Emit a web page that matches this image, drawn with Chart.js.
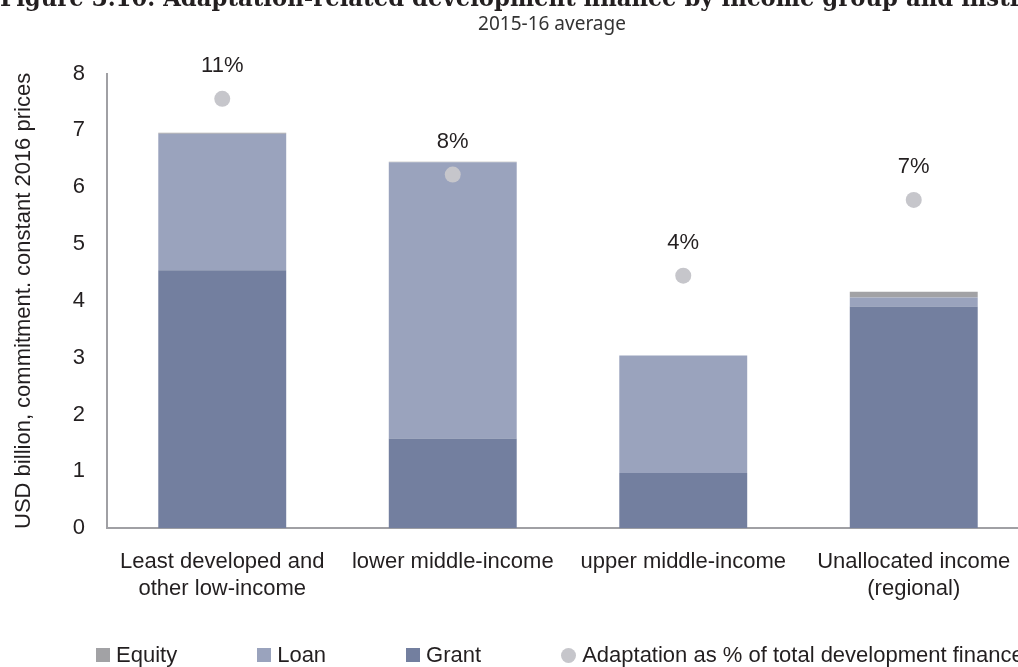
<!DOCTYPE html>
<html>
<head>
<meta charset="utf-8">
<script src="https://cdn.jsdelivr.net/npm/chart.js@4/dist/chart.umd.min.js"></script>
<style>
  body { margin: 0; overflow: hidden; background: #fff; }
  #wrap { position: relative; width: 1104px; height: 667px; }
  #legend {
    position: absolute; left: 96px; top: 642px;
    display: flex; align-items: center;
    font: 22px 'Liberation Sans', Arial, sans-serif; color: #231f20;
    white-space: nowrap;
  }
  #legend .item { display: flex; align-items: center; margin-right: 80px; }
  #legend .sw { display: inline-block; width: 14px; height: 14px; margin-right: 6px; }
  #legend .dot { width: 15px; height: 15px; border-radius: 50%; }
</style>
</head>
<body>
<div id="wrap">
  <canvas id="myChart"></canvas>
  <div id="legend"></div>
</div>
<script>
// income groups on the x axis
const categories = [
  ['Least developed and', 'other low-income'],
  'lower middle-income',
  'upper middle-income',
  ['Unallocated income', '(regional)'],
];

// USD billion, by instrument
const grant = [4.54, 1.58, 0.97, 3.90];
const loan = [2.40, 4.86, 2.07, 0.16];
const equity = [0.02, 0.01, 0.0, 0.10];

// adaptation share of total development finance (%)
const adaptationShare = [11, 8, 4, 7];

const yTicks = [0, 1, 2, 3, 4, 5, 6, 7, 8];

const textColor = '#231f20';
const sans = "'Liberation Sans', Arial, sans-serif";
Chart.defaults.font.family = sans;
Chart.defaults.font.size = 22;
Chart.defaults.color = textColor;

// prints the % value above each dot
const shareLabels = {
  id: 'shareLabels',
  afterDatasetsDraw(chart) {
    const idx = chart.data.datasets.findIndex(d => d.type === 'line');
    const meta = chart.getDatasetMeta(idx);
    const ctx = chart.ctx;
    ctx.save();
    ctx.font = '22px ' + sans;
    ctx.fillStyle = textColor;
    ctx.textAlign = 'center';
    ctx.textBaseline = 'middle';
    meta.data.forEach((pt, i) => {
      ctx.fillText(chart.data.datasets[idx].data[i] + '%', pt.x, pt.y - 33);
    });
    ctx.restore();
  }
};

const ctx = document.getElementById('myChart').getContext('2d');
const myChart = new Chart(ctx, {
  type: 'bar',
  data: {
    labels: categories,
    datasets: [
      { label: 'Grant', data: grant, backgroundColor: '#737f9f', stack: 's', order: 2 },
      { label: 'Loan', data: loan, backgroundColor: '#9aa3bd', stack: 's', order: 2 },
      { label: 'Equity', data: equity, backgroundColor: '#a2a2a5', stack: 's', order: 2 },
      {
        type: 'line',
        label: 'Adaptation as % of total development finance',
        data: adaptationShare,
        yAxisID: 'y1',
        showLine: false,
        pointRadius: 8,
        pointHoverRadius: 8,
        pointBorderWidth: 0,
        backgroundColor: '#c6c6cb',
        borderColor: '#c6c6cb',
        order: 1,
      },
    ],
  },
  options: {
    responsive: true,
    maintainAspectRatio: false,
    animation: false,
    layout: { padding: { bottom: 44 } },
    datasets: {
      bar: { categoryPercentage: 1, barPercentage: 0.555 },
    },
    scales: {
      x: {
        stacked: true,
        grid: { display: false, drawTicks: false },
        border: { display: true, color: '#a0a0a4', width: 2 },
        ticks: { padding: 21, maxRotation: 0, autoSkip: false, font: { size: 22 } },
      },
      y: {
        stacked: true,
        min: 0,
        max: 8,
        afterBuildTicks: (scale) => { scale.ticks = yTicks.map(v => ({ value: v })); },
        afterFit: (scale) => { scale.width = 107; },
        grid: { display: false, drawTicks: false },
        border: { display: true, color: '#a0a0a4', width: 2 },
        ticks: { padding: 22, font: { size: 22 } },
        title: {
          display: true,
          text: 'USD billion, commitment. constant 2016 prices',
          padding: { top: 11, bottom: 0 },
          font: { size: 22 },
        },
      },
      y1: {
        position: 'right',
        min: -6,
        max: 12,
        afterFit: (scale) => { scale.width = 75; },
        grid: { display: false, drawTicks: false },
        border: { display: false },
        ticks: { display: false },
      },
    },
    plugins: {
      legend: { display: false },
      tooltip: { enabled: false },
      title: {
        display: true,
        text: 'Figure 3.10. Adaptation-related development finance by income group and instrument',
        color: textColor,
        font: { family: "'DejaVu Serif', serif", size: 23.5, weight: 'bold' },
        padding: { top: -14, bottom: 0 },
      },
      subtitle: {
        display: true,
        text: '2015-16 average',
        color: '#333',
        font: { family: "'Noto Sans', sans-serif", size: 19 },
        padding: { top: -1, bottom: 37.6 },
      },
    },
  },
  plugins: [shareLabels],
});

// legend below the chart, same order as the stack from the top down
const legendEl = document.getElementById('legend');
['Equity', 'Loan', 'Grant', 'Adaptation as % of total development finance'].forEach(name => {
  const ds = myChart.data.datasets.find(d => d.label === name);
  const item = document.createElement('span');
  item.className = 'item';
  const sw = document.createElement('span');
  sw.className = ds.type === 'line' ? 'sw dot' : 'sw';
  sw.style.background = ds.backgroundColor;
  item.appendChild(sw);
  item.appendChild(document.createTextNode(ds.label));
  legendEl.appendChild(item);
});
</script>
</body>
</html>
